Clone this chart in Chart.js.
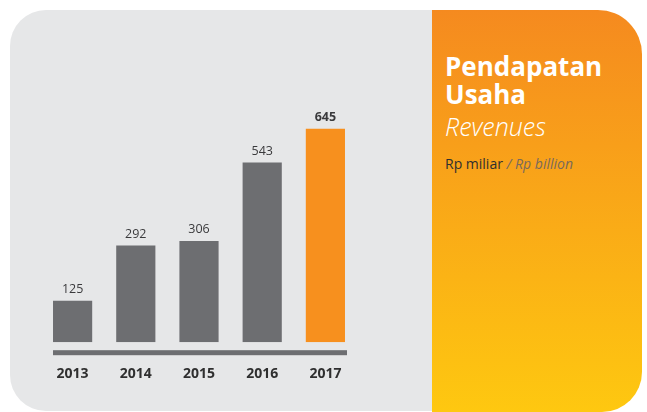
<!DOCTYPE html>
<html>
<head>
<meta charset="utf-8">
<script src="https://cdn.jsdelivr.net/npm/chart.js@4"></script>
<style>
html, body { margin: 0; padding: 0; background: #fff; }
#wrap { position: relative; width: 647px; height: 412px; overflow: hidden; font-family: "Open Sans", sans-serif; }
#grey { position: absolute; left: 10px; top: 10px; width: 440px; height: 401px; background: #e6e7e8; border-radius: 36px 0 0 36px; }
#side { position: absolute; left: 432px; top: 10px; width: 210px; height: 402px; background: linear-gradient(#f58a1f, #fec810); border-radius: 0 44px 40px 0; }
.t { position: absolute; left: 445px; white-space: nowrap; }
#t1 { top: 52px; font-size: 26px; font-weight: bold; color: #fff; line-height: 28px; }
#t2 { top: 112px; font-size: 25px; font-style: italic; font-weight: 300; color: #fff; line-height: 28px; }
#t3 { top: 154px; font-size: 14px; color: #2f2f2f; line-height: 20px; }
#t3 span { font-style: italic; color: #7a6a5c; }
#c { position: absolute; left: 0; top: 0; }
</style>
</head>
<body>
<div id="wrap">
  <div id="grey"></div>
  <div id="side"></div>
  <div class="t" id="t1">Pendapatan<br>Usaha</div>
  <div class="t" id="t2">Revenues</div>
  <div class="t" id="t3">Rp miliar <span>/ Rp billion</span></div>
  <canvas id="c" width="647" height="412"></canvas>
</div>
<script>
const years = ['2013', '2014', '2015', '2016', '2017'];
const revenues = [125, 292, 306, 543, 645];
const highlight = 4; // 2017 is orange and bold

const barColors = years.map((y, i) => i === highlight ? '#f7901e' : '#6d6e71');

// axis strip under the bars and the value labels on top
const extras = {
    id: 'extras',
    afterDatasetsDraw(chart) {
        const ctx = chart.ctx;
        const bars = chart.getDatasetMeta(0).data;
        const first = bars[0], last = bars[bars.length - 1];
        const base = chart.scales.y.getPixelForValue(0);
        const x0 = first.x - first.width / 2;
        const x1 = last.x + last.width / 2 + 2;
        ctx.save();
        ctx.fillStyle = '#6d6e71';
        ctx.fillRect(x0, base + 8, x1 - x0, 5);
        ctx.textAlign = 'center';
        ctx.textBaseline = 'bottom';
        ctx.fillStyle = '#3a3a3c';
        bars.forEach((b, i) => {
            ctx.font = (i === highlight ? 'bold ' : '') + '12.5px "Open Sans"';
            ctx.fillText(revenues[i], b.x, b.y - 5);
        });
        ctx.restore();
    }
};

const ctx = document.getElementById('c').getContext('2d');
const chart = new Chart(ctx, {
    type: 'bar',
    data: {
        labels: years,
        datasets: [{
            label: 'Revenues',
            data: revenues,
            backgroundColor: barColors,
            borderWidth: 0,
            barPercentage: 0.62,
            categoryPercentage: 1
        }]
    },
    options: {
        responsive: false,
        animation: false,
        layout: { padding: { left: 41, right: 290, top: 94, bottom: 15 } },
        plugins: { legend: { display: false }, tooltip: { enabled: false } },
        scales: {
            x: {
                grid: { display: false },
                border: { display: false },
                ticks: { padding: 15, color: '#2f2f2f', font: { family: 'Open Sans', size: 14, weight: 'bold' } }
            },
            y: {
                display: false,
                min: 0,
                max: 750
            }
        }
    },
    plugins: [extras]
});
</script>
</body>
</html>
